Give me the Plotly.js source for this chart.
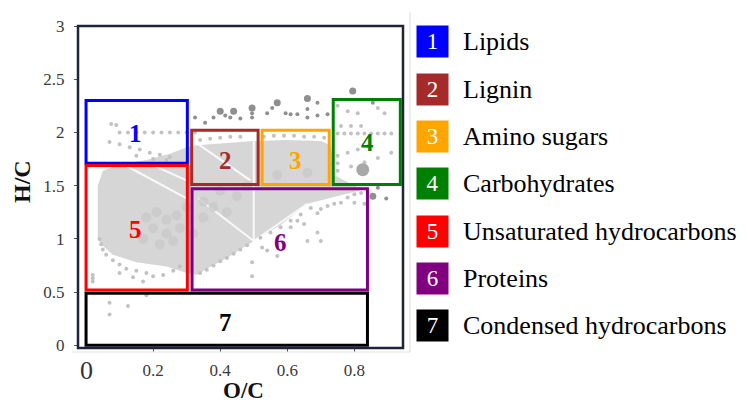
<!DOCTYPE html>
<html>
<head>
<meta charset="utf-8">
<script src="https://cdn.plot.ly/plotly-3.0.1.min.js"></script>
<style>html,body{margin:0;padding:0;background:#fff;}#chart{width:747px;height:403px;}</style>
</head>
<body>
<div id="chart"></div>
<script>
// ---- Data ----
const categories = ["Lipids","Lignin","Amino sugars","Carbohydrates","Unsaturated hydrocarbons","Proteins","Condensed hydrocarbons"];
const catNumbers = ["1","2","3","4","5","6","7"];
const catColors = ["#0000ff","#a52a2a","#ffa500","#008000","#ff0000","#800080","#000000"];
// region boxes (O/C, H/C)
const boxX0 = [0.0, 0.315, 0.525, 0.737, 0.0, 0.316, 0.0];
const boxX1 = [0.302, 0.513, 0.725, 0.937, 0.302, 0.839, 0.839];
const boxY0 = [1.71, 1.51, 1.51, 1.51, 0.52, 0.52, 0.0];
const boxY1 = [2.30, 2.02, 2.02, 2.31, 1.69, 1.47, 0.49];
const labelX = [0.146, 0.415, 0.624, 0.839, 0.146, 0.58, 0.415];
const labelY = [1.99, 1.74, 1.74, 1.91, 1.09, 0.97, 0.21];
// dense cloud outline of compounds
const cloudX = [0.035,0.035,0.05,0.1,0.18,0.25,0.3,0.33,0.42,0.5,0.6,0.7,0.73,0.74,0.8,0.83,0.81,0.66,0.58,0.5,0.42,0.36,0.33,0.3,0.24,0.15,0.08,0.045];
const cloudY = [1.0,1.5,1.64,1.7,1.74,1.8,1.86,1.88,1.9,1.92,1.93,1.92,1.88,1.6,1.5,1.47,1.45,1.33,1.13,0.98,0.82,0.72,0.66,0.68,0.74,0.78,0.85,0.95];
// white gaps (rays) in the cloud
const rayX = [[0.5,0.5],[0.5,0.335],[0.1,0.3],[0.5,0.66],[0.2,0.3],[0.33,0.49]];
const rayY = [[0.98,1.95],[0.98,1.38],[1.72,1.38],[0.98,1.33],[1.69,1.55],[1.9,1.55]];
// light gray compounds
const lightX = [0.1,0.125,0.15,0.175,0.2,0.225,0.25,0.275,0.3,0.325,
  0.07,0.1,0.13,0.16,0.19,0.22,0.25,0.075,0.09,0.15,0.2,0.24,
  0.04,0.045,0.05,0.06,0.08,0.1,0.12,0.15,0.18,0.2,0.23,0.26,0.28,0.1,0.14,0.17,
  0.34,0.36,0.38,0.40,0.42,0.44,0.46,0.48,0.52,0.55,0.58,0.61,0.64,0.67,
  0.75,0.77,0.79,0.81,0.83,0.85,0.87,0.89,0.91,
  0.75,0.79,0.83,0.87,0.91,0.75,0.78,0.81,0.84,0.76,0.79,0.82,0.75,
  0.75,0.78,0.81,0.87,0.89,
  0.69,0.70,0.72,0.74,0.76,0.78,0.80,0.82,0.80,0.83,0.63,0.65,0.61,0.69,0.66,0.70,0.57,0.495,0.495,0.525,0.54,
  0.07,0.07,0.125,0.18,0.02,0.02,0.02,
  0.34,0.37,0.40,0.43,0.46,0.53,0.56,0.59,0.62,0.65,0.68,0.71];
const lightY = [2.0,2.0,2.0,2.0,2.0,2.0,2.0,2.0,2.0,2.0,
  1.91,1.89,1.86,1.84,1.81,1.79,1.77,2.08,2.07,1.78,1.75,1.74,
  1.0,0.95,0.9,0.85,0.8,0.76,0.72,0.7,0.68,0.65,0.66,0.7,0.74,0.68,0.64,0.6,
  0.68,0.71,0.75,0.79,0.82,0.86,0.90,0.94,1.01,1.06,1.11,1.17,1.23,1.29,
  1.99,1.99,1.99,1.99,1.99,1.99,1.99,1.99,1.99,
  1.64,1.68,1.72,1.76,1.81,1.78,1.81,1.84,1.87,2.06,2.06,2.06,1.71,
  2.25,2.2,2.18,2.23,2.18,
  1.24,1.28,1.31,1.33,1.34,1.39,1.42,1.43,1.34,1.33,1.17,1.14,1.11,1.06,0.98,0.98,0.84,0.78,0.65,0.92,0.89,
  0.40,0.29,0.37,0.47,0.6,0.63,0.66,
  1.93,1.94,1.95,1.96,1.96,1.96,1.97,1.97,1.97,1.96,1.96,1.95];
// larger light circles in the dense centre
const blobX = [0.18,0.21,0.24,0.27,0.2,0.24,0.28,0.17,0.22,0.26,0.3,0.35,0.38,0.35,0.42,0.32,0.4,0.45,0.48,0.57,0.66];
const blobY = [1.2,1.25,1.18,1.22,1.1,1.05,1.1,1.0,0.95,0.98,1.3,1.35,1.3,1.2,1.25,1.05,1.45,1.4,1.5,1.6,1.62];
// darker gray compounds (small)
const darkX = [0.325,0.355,0.38,0.415,0.43,0.46,0.495,0.495,0.54,0.555,0.595,0.61,0.63,0.66,0.66,0.69,0.69,0.72,0.855,0.895,0.87];
const darkY = [2.14,2.09,2.14,2.16,2.14,2.13,2.18,2.14,2.18,2.23,2.18,2.17,2.17,2.22,2.14,2.28,2.16,2.17,2.28,1.38,1.48];
// darker gray compounds (large)
const bigX = [0.40,0.44,0.495,0.57,0.66,0.795,0.855];
const bigY = [2.20,2.20,2.23,2.28,2.32,2.39,1.40];
const hugeX = [0.825];
const hugeY = [1.65];
// axis ticks
const yTickVals = [0,0.5,1,1.5,2,2.5,3];
const yTickText = ["0","0.5","1","1.5","2","2.5","3"];
const xTickVals = [0.2,0.4,0.6,0.8];
const xTickText = ["0.2","0.4","0.6","0.8"];

// ---- Layout geometry ----
const W = 747, H = 403, L = 78, R = 344, T = 26, B = 55;
const PW = W - L - R, PH = H - T - B;
const px = v => (v - L) / PW;
const py = v => (H - B - v) / PH;
const serif = "'Liberation Serif', 'Times New Roman', Times, serif";

const traces = [];
traces.push({x: cloudX, y: cloudY, type: "scatter", mode: "lines", fill: "toself",
  fillcolor: "#d6d6d6", line: {width: 0}, hoverinfo: "skip"});
rayX.forEach((rx, i) => traces.push({x: rx, y: rayY[i], type: "scatter", mode: "lines",
  line: {color: "rgba(255,255,255,0.85)", width: 2}, hoverinfo: "skip"}));
traces.push({x: blobX, y: blobY, type: "scatter", mode: "markers",
  marker: {color: "#c9c9c9", size: 10, opacity: 0.8}, hoverinfo: "skip"});
traces.push({x: lightX, y: lightY, type: "scatter", mode: "markers",
  marker: {color: "#c2c2c2", size: 4}, hoverinfo: "skip"});
traces.push({x: darkX, y: darkY, type: "scatter", mode: "markers",
  marker: {color: "#8f8f8f", size: 4}, hoverinfo: "skip"});
traces.push({x: bigX, y: bigY, type: "scatter", mode: "markers",
  marker: {color: "#8f8f8f", size: 7}, hoverinfo: "skip"});
traces.push({x: hugeX, y: hugeY, type: "scatter", mode: "markers",
  marker: {color: "#a8a8a8", size: 13}, hoverinfo: "skip"});

const shapes = [];
categories.forEach((c, i) => shapes.push({type: "rect", xref: "x", yref: "y",
  x0: boxX0[i], x1: boxX1[i], y0: boxY0[i], y1: boxY1[i],
  line: {color: catColors[i], width: 3}, fillcolor: "rgba(0,0,0,0)", layer: "above"}));
// plot frame
shapes.push({type: "rect", xref: "paper", yref: "paper", x0: 0, x1: 1, y0: 0, y1: 1,
  line: {color: "#1d2638", width: 2.5}});
// faint outer border lines
shapes.push({type: "line", xref: "paper", yref: "paper", x0: px(410), x1: px(410), y0: py(352), y1: py(12),
  line: {color: "#d9d9d9", width: 1}});
shapes.push({type: "line", xref: "paper", yref: "paper", x0: px(72), x1: px(410), y0: py(352), y1: py(352),
  line: {color: "#e2e2e2", width: 1}});

const annotations = [];
categories.forEach((c, i) => {
  annotations.push({xref: "x", yref: "y", x: labelX[i], y: labelY[i], text: "<b>" + catNumbers[i] + "</b>",
    showarrow: false, font: {family: serif, size: 25, color: catColors[i]}});
  const cy = 42 + i * 47.3;
  annotations.push({xref: "paper", yref: "paper", x: px(433), y: py(cy), text: catNumbers[i],
    showarrow: false, bgcolor: catColors[i], width: 31, height: 31, borderpad: 0,
    xanchor: "center", yanchor: "middle", font: {family: serif, size: 23, color: "#ffffff"}});
  annotations.push({xref: "paper", yref: "paper", x: px(461), y: py(cy), text: c,
    showarrow: false, xanchor: "left", yanchor: "middle", font: {family: serif, size: 26, color: "#000000"}});
});
annotations.push({xref: "x", yref: "paper", x: 0, y: py(370), text: "0", showarrow: false,
  xanchor: "center", yanchor: "middle", font: {family: serif, size: 26, color: "#333333"}});
annotations.push({xref: "paper", yref: "paper", x: px(243), y: py(390), text: "<b>O/C</b>", showarrow: false,
  borderpad: 0, xanchor: "center", yanchor: "middle", font: {family: serif, size: 23, color: "#111111"}});
annotations.push({xref: "paper", yref: "paper", x: px(22), y: py(182), text: "<b>H/C</b>", showarrow: false,
  textangle: -90, xanchor: "center", yanchor: "middle", font: {family: serif, size: 24, color: "#111111"}});

const layout = {
  width: W, height: H, margin: {l: L, r: R, t: T, b: B},
  paper_bgcolor: "#ffffff", plot_bgcolor: "#ffffff", showlegend: false,
  font: {family: serif},
  xaxis: {range: [-0.024, 0.945], tickvals: xTickVals, ticktext: xTickText, showgrid: false, zeroline: false,
    ticks: "outside", ticklen: 3, tickcolor: "#555", ticklabelstandoff: 4,
    tickfont: {family: serif, size: 17, color: "#3a3a3a"}, showline: false},
  yaxis: {range: [-0.025, 3.0], tickvals: yTickVals, ticktext: yTickText, showgrid: false, zeroline: false,
    ticks: "outside", ticklen: 3, tickcolor: "#555", ticklabelstandoff: 6,
    tickfont: {family: serif, size: 17, color: "#3a3a3a"}, showline: false},
  shapes: shapes, annotations: annotations
};
Plotly.newPlot("chart", traces, layout, {staticPlot: true, displayModeBar: false});
</script>
</body>
</html>
